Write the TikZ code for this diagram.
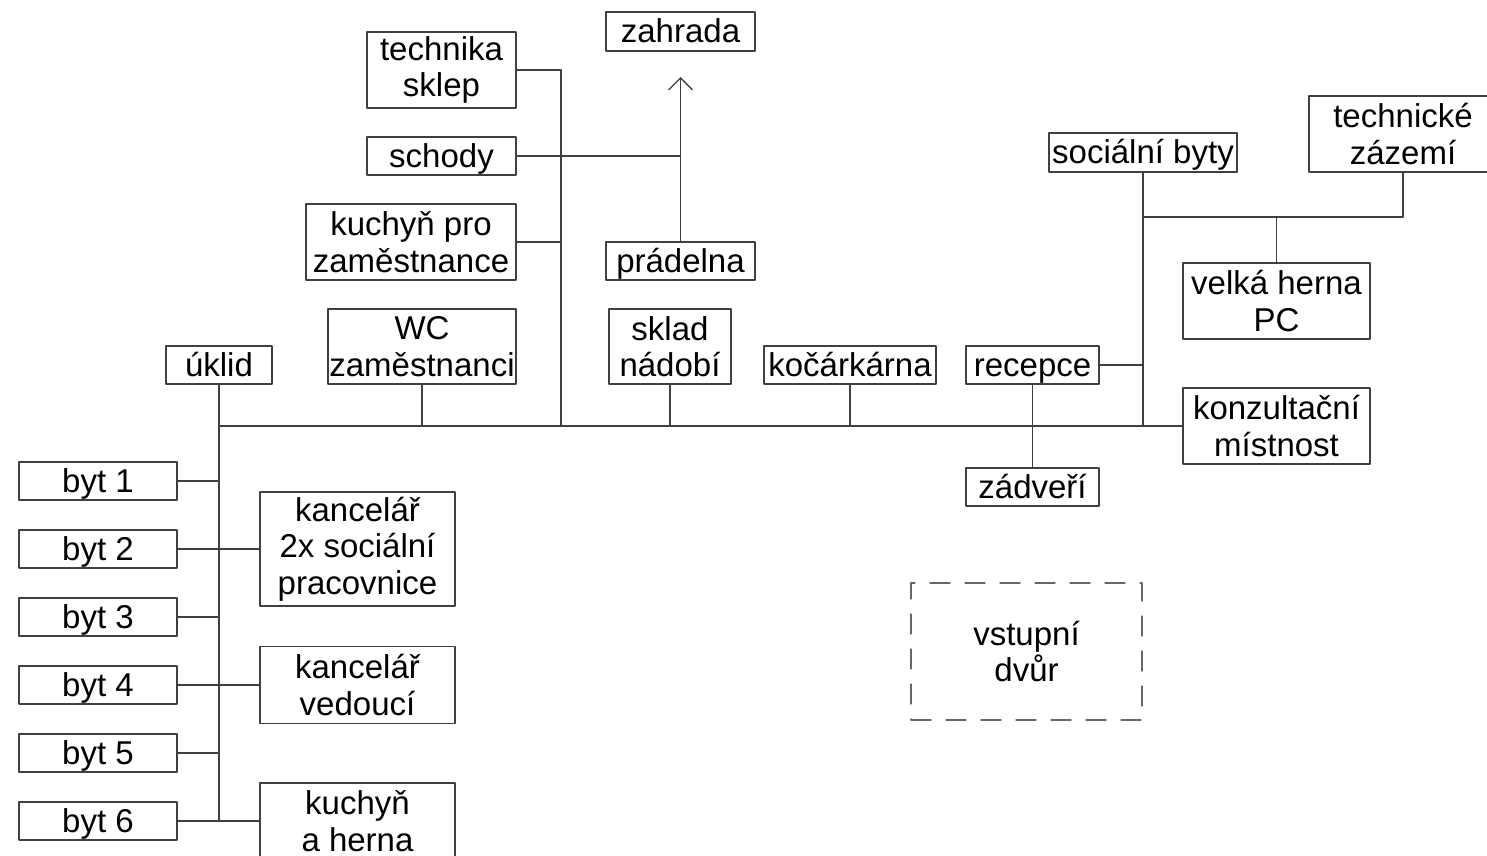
\documentclass[tikz,border=0pt]{standalone}
\usepackage{fontspec}
\setmainfont{Liberation Sans}
\usetikzlibrary{arrows.meta}

\begin{document}
\begin{tikzpicture}[x=1pt, y=-1pt, line join=round, line cap=round,
  room/.style={draw=black!75, line width=1.3pt, inner sep=0pt, align=center,
    font=\fontsize{33}{36.5}\selectfont},
  oneline/.style={text height=30pt, text depth=8pt},
  link/.style={draw=black!75, line width=1.3pt},
  >={Straight Barb[length=12pt,width=24pt]}]
	\useasboundingbox (0,0) rectangle (1487,855);
	% upper wing
	\node[room, oneline, minimum width=149, minimum height=39] (zahrada) at (680.5,31.5) {zahrada};
	\node[room, minimum width=149, minimum height=76] (technika) at (441.5,70) {technika\\sklep};
	\node[room, oneline, minimum width=149, minimum height=38] (schody) at (441.5,156) {schody};
	\node[room, minimum width=210, minimum height=76] (kuchZam) at (411,242) {kuchyň pro\\zaměstnance};
	\node[room, oneline, minimum width=149, minimum height=38] (pradelna) at (680.5,261) {prádelna};
	% along the corridor
	\node[room, oneline, minimum width=106, minimum height=38] (uklid) at (219,365) {úklid};
	\node[room, minimum width=188, minimum height=75] (wc) at (422,346.5) {WC\\zaměstnanci};
	\node[room, minimum width=122, minimum height=75] (sklad) at (670,346.5) {sklad\\nádobí};
	\node[room, oneline, minimum width=172, minimum height=38] (kocar) at (850,365) {kočárkárna};
	\node[room, oneline, minimum width=133, minimum height=38] (recepce) at (1032.5,365) {recepce};
	\node[room, oneline, minimum width=133, minimum height=38] (zadveri) at (1032.5,487) {zádveří};
	% right wing
	\node[room, oneline, minimum width=188, minimum height=39] (socByty) at (1143,152.5) {sociální byty};
	\node[room, minimum width=188, minimum height=76] (techZaz) at (1403,134) {technické\\zázemí};
	\node[room, minimum width=187, minimum height=76] (velka) at (1276.5,301) {velká herna\\PC};
	\node[room, minimum width=187, minimum height=76] (konz) at (1276.5,426) {konzultační\\místnost};
	% left wing
	\foreach \i in {1,...,6}
		\node[room, oneline, minimum width=158, minimum height=38] (byt\i) at (98,413+68*\i) {byt \i};
	\node[room, minimum width=195, minimum height=114] (kancSoc) at (357.5,549) {kancelář\\2x sociální\\pracovnice};
	\node[room, minimum width=195, minimum height=77] (kancVed) at (357.5,685) {kancelář\\vedoucí};
	\node[room, minimum width=195, minimum height=76] (kuchHerna) at (357.5,821) {kuchyň\\a herna};
	\node[room, dash pattern=on 20pt off 15pt, draw=black!60, minimum width=231, minimum height=137] (dvur) at (1026.5,651.5) {vstupní\\dvůr};

	\path
	(561,70) coordinate (trunkTop)
	(561,426) coordinate (trunkBot)
	(680.5,77) coordinate (zahTip)
	(1143,217) coordinate (socJ);

	% corridor
	\draw[link] (uklid.south |- konz.west) -- (konz.west);
	\draw[link] (uklid.south) -- (uklid.south |- byt6.east);
	\foreach \i in {1,3,5}
		\draw[link] (byt\i.east) -- (byt\i.east -| uklid.south);
	\foreach \i/\t in {2/kancSoc, 4/kancVed, 6/kuchHerna}
		\draw[link] (byt\i.east) -- (\t.west);
	\foreach \p in {wc, sklad, kocar}
		\draw[link] (\p.south) -- (\p.south |- konz.west);
	\draw[link] (recepce.south) -- (zadveri.north);
	% upper wing
	\draw[link] (trunkTop) -- (trunkBot);
	\draw[link] (technika.east) -- (trunkTop);
	\draw[link] (kuchZam.east) -- (kuchZam.east -| trunkTop);
	\draw[link] (schody.east) -- (schody.east -| zahTip);
	\draw[link, ->] (pradelna.north) -- (zahTip);
	% right wing
	\draw[link] (socByty.south) -- (socByty.south |- konz.west);
	\draw[link] (recepce.east) -- (recepce.east -| socByty.south);
	\draw[link] (socJ) -| (techZaz.south);
	\draw[link] (velka.north) -- (velka.north |- socJ);
\end{tikzpicture}
\end{document}
